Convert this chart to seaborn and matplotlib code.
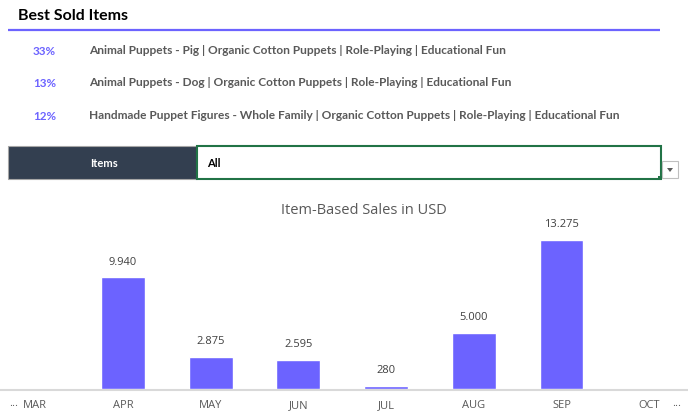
import matplotlib
matplotlib.use("Agg")
import matplotlib.pyplot as plt
import seaborn as sns
import pandas as pd
from matplotlib.patches import Rectangle, Polygon

# ---- data ----
months = ["MAR", "APR", "MAY", "JUN", "JUL", "AUG", "SEP", "OCT"]
sales = [None, 9940, 2875, 2595, 280, 5000, 13275, None]
top_pcts = ["33%", "13%", "12%"]
top_items = [
    "Animal Puppets - Pig | Organic Cotton Puppets | Role-Playing | Educational Fun",
    "Animal Puppets - Dog | Organic Cotton Puppets | Role-Playing | Educational Fun",
    "Handmade Puppet Figures - Whole Family | Organic Cotton Puppets | Role-Playing | Educational Fun",
]
filter_label = "Items"
filter_value = "All"
title = "Item-Based Sales in USD"
header = "Best Sold Items"

sns.set_theme(style="white")
plt.rcParams["font.family"] = ["Open Sans", "DejaVu Sans"]

W, H = 688, 417
fig = plt.figure(figsize=(W / 100, H / 100), dpi=100)
fig.patch.set_facecolor("white")

# ---- overlay axes in pixel coordinates ----
ov = fig.add_axes([0, 0, 1, 1])
ov.set_xlim(0, W)
ov.set_ylim(H, 0)
ov.axis("off")

purple = "#6C63FF"
grey_txt = "#595959"
calibri = ["Lato", "DejaVu Sans"]

ov.text(18, 16, header, fontsize=11.5, fontweight="bold", color="black",
        va="center", ha="left", family=calibri)
ov.plot([8, 660], [30, 30], color=purple, lw=1.6, solid_capstyle="butt")

for i, (p, t) in enumerate(zip(top_pcts, top_items)):
    y = 50 + i * 32.5
    ov.text(33, y + 1, p, fontsize=8.4, color=purple, va="center", ha="left",
            family=calibri, fontweight="bold")
    ov.text(89, y, t, fontsize=8.55, color=grey_txt, va="center", ha="left",
            family=calibri, fontweight="bold")

# filter row
ov.add_patch(Rectangle((8, 146), 189, 33, facecolor="#333F50", edgecolor="#A6A6A6", lw=0.8))
ov.text(104, 163, filter_label, fontsize=8, color="white", fontweight="bold",
        va="center", ha="center", family=calibri)
ov.add_patch(Rectangle((197, 146), 464, 33, facecolor="white", edgecolor="#217346", lw=1.5))
ov.text(207, 163, filter_value, fontsize=8, color="black", fontweight="bold",
        va="center", ha="left", family=calibri)
ov.add_patch(Rectangle((662, 161), 16, 17, facecolor="white", edgecolor="#BFBFBF", lw=0.8))
ov.add_patch(Polygon([(667, 168), (673, 168), (670, 172)], closed=True,
                     facecolor="#595959", edgecolor="none"))
ov.add_patch(Rectangle((658, 176), 4, 4, facecolor="#217346", edgecolor="none"))

# ---- bar chart ----
baseline_px = 389
top_px = 220
ax = fig.add_axes([0, (H - baseline_px) / H, 1, (baseline_px - top_px) / H])
ax.patch.set_alpha(0)

df = pd.DataFrame({"month": months, "sales": sales}).dropna()
sns.barplot(data=df, x="month", y="sales", order=months, color=purple,
            saturation=1, width=0.5, ax=ax, zorder=3)

ymax = (baseline_px - top_px) * 89.1
ax.set_ylim(0, ymax)
ax.set_xlim(-0.4025, 7.442)

for i, v in enumerate(sales):
    if v is None:
        continue
    ax.annotate(f"{v:,.0f}".replace(",", "."), (i, v), xytext=(0, 7),
                textcoords="offset points", ha="center", va="bottom",
                fontsize=8, color="#404040")

ax.set_xlabel("")
ax.set_ylabel("")
ax.set_yticks([])
ax.tick_params(axis="x", length=0, pad=7, labelsize=8, labelcolor=grey_txt)
for s in ["top", "left", "right"]:
    ax.spines[s].set_visible(False)
ax.spines["bottom"].set_color("#D9D9D9")
ax.spines["bottom"].set_linewidth(1.5)
ax.spines["bottom"].set_zorder(1)
ax.spines["bottom"].set_position(("outward", 1))

ov.text(14, 404, "...", fontsize=8, color=grey_txt, ha="center", va="center")
ov.text(677, 404, "...", fontsize=8, color=grey_txt, ha="center", va="center")

fig.text(364 / W, 1 - 210 / H, title, fontsize=10.5, color=grey_txt,
         ha="center", va="center")

fig.savefig("out.png", dpi=100, facecolor="white")
